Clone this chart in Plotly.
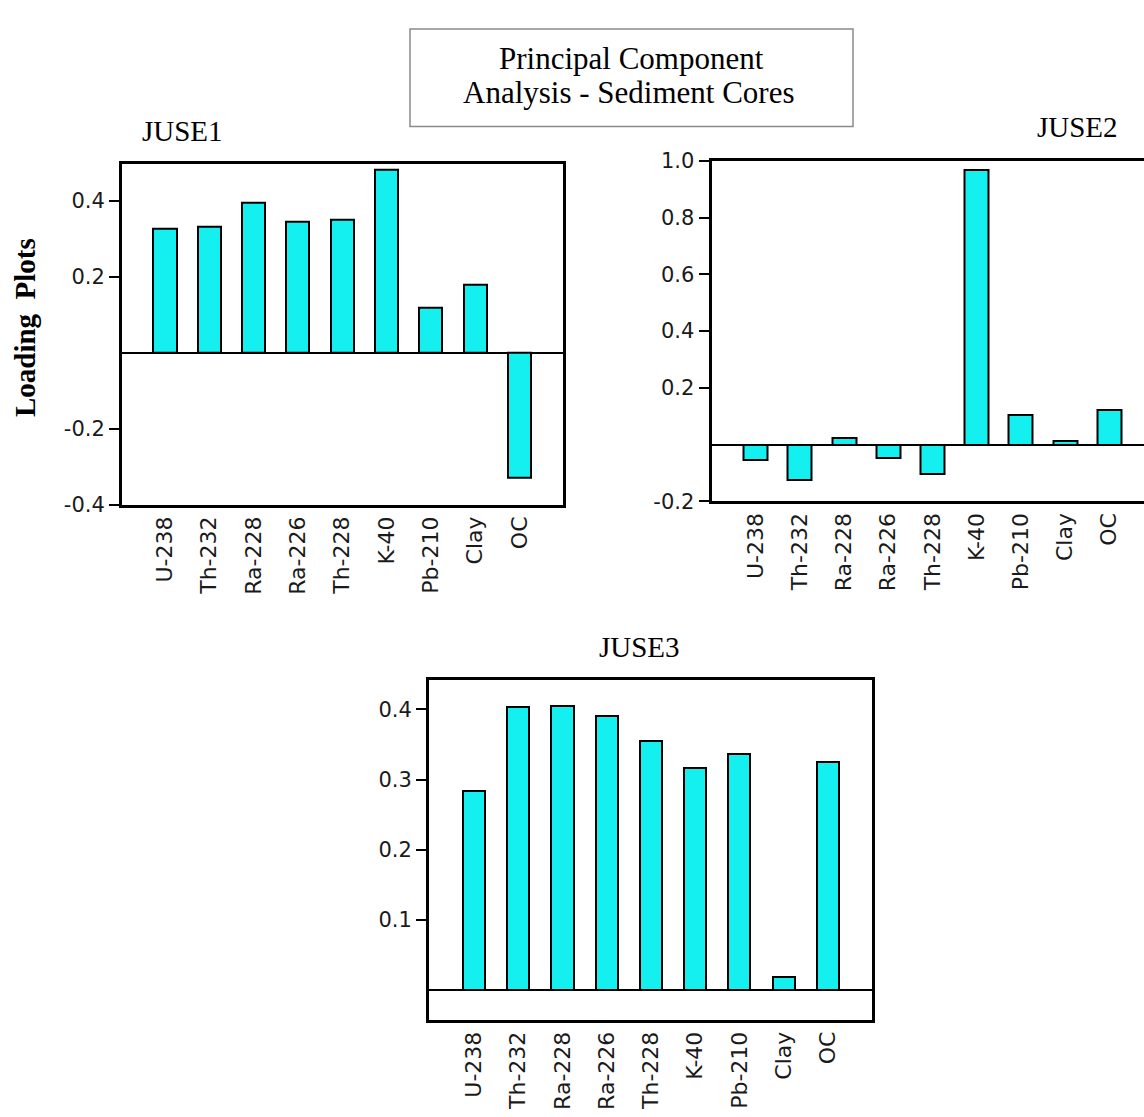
import plotly.graph_objects as go

categories = ["U-238", "Th-232", "Ra-228", "Ra-226", "Th-228", "K-40", "Pb-210", "Clay", "OC"]
juse1 = [0.326, 0.332, 0.395, 0.345, 0.351, 0.483, 0.120, 0.180, -0.329]
juse2 = [-0.055, -0.124, 0.022, -0.047, -0.105, 0.970, 0.104, 0.012, 0.123]
juse3 = [0.283, 0.403, 0.405, 0.391, 0.355, 0.317, 0.337, 0.018, 0.325]

ticks1 = [0.4, 0.2, -0.2, -0.4]
ticks2 = [1.0, 0.8, 0.6, 0.4, 0.2, -0.2]
ticks3 = [0.4, 0.3, 0.2, 0.1]

W, H = 1144, 1117
BAR = "#14F0F0"
YTICKFONT = dict(family="DejaVu Sans", size=21, color="#1a1a1a")
XTICKFONT = dict(family="DejaVu Sans", size=22, color="#1a1a1a")
SERIF = "Liberation Serif"

fig = go.Figure()

def px_x(p):
    return p / W

def px_y(p):
    return 1 - p / H

panels = [
    ("x", "y", juse1, 0.52),
    ("x2", "y2", juse2, 0.54),
    ("x3", "y3", juse3, 0.50),
]
for xa, ya, vals, bw in panels:
    fig.add_trace(go.Bar(
        x=categories, y=vals, xaxis=xa, yaxis=ya, width=bw,
        marker=dict(color=BAR, line=dict(color="black", width=2)),
        showlegend=False, hoverinfo="x+y",
    ))

def xaxis(domain, rng, anchor):
    return dict(domain=domain, range=rng, anchor=anchor, type="category",
                categoryorder="array", categoryarray=categories,
                showline=True, linecolor="black", linewidth=3, mirror=True,
                ticks="", tickangle=-90, tickfont=XTICKFONT, showgrid=False,
                fixedrange=True)

def yaxis(domain, rng, anchor, tickvals, mirror=True):
    return dict(domain=domain, range=rng, anchor=anchor,
                tickvals=tickvals, ticktext=[f"{v:.1f}" for v in tickvals],
                showline=True, linecolor="black", linewidth=3, mirror=mirror,
                ticks="outside", ticklen=10, tickwidth=2, tickcolor="black",
                tickfont=YTICKFONT, showgrid=False,
                zeroline=True, zerolinecolor="black", zerolinewidth=2,
                fixedrange=True)

fig.update_layout(
    width=W, height=H,
    margin=dict(l=0, r=0, t=0, b=0),
    paper_bgcolor="white", plot_bgcolor="white",
    bargap=0,
    xaxis=xaxis([px_x(122), px_x(563)], [-0.97, 8.98], "y"),
    yaxis=yaxis([px_y(503.5), px_y(155)], [-0.4, 0.498], "x", ticks1),
    xaxis2=xaxis([px_x(711.5), 1.0], [-1.0, 8.785], "y2"),
    yaxis2=yaxis([px_y(500), px_y(152.3)], [-0.2, 1.0], "x2", ticks2, mirror=False),
    xaxis3=xaxis([px_x(429), px_x(872)], [-1.02, 9.0], "y3"),
    yaxis3=yaxis([px_y(1030), px_y(682.7)], [-0.043, 0.442], "x3", ticks3),
)

annotations = [
    dict(text="JUSE1", x=px_x(182), y=px_y(122), font=dict(family=SERIF, size=29, color="black")),
    dict(text="JUSE2", x=px_x(1077), y=px_y(118), font=dict(family=SERIF, size=29, color="black")),
    dict(text="JUSE3", x=px_x(639.5), y=px_y(649), font=dict(family=SERIF, size=29, color="black")),
    dict(text="<b>Loading\u00a0 Plots</b>", x=px_x(25), y=px_y(323), textangle=-90,
         font=dict(family=SERIF, size=29, color="black")),
    dict(text="Principal Component", x=px_x(631), y=px_y(48),
         font=dict(family=SERIF, size=31, color="black")),
    dict(text="Analysis - Sediment Cores", x=px_x(629), y=px_y(82),
         font=dict(family=SERIF, size=31, color="black")),
]
for a in annotations:
    a.update(xref="paper", yref="paper", showarrow=False, xanchor="center", yanchor="middle")
fig.update_layout(annotations=annotations)

fig.add_shape(type="rect", xref="paper", yref="paper",
              x0=px_x(410), x1=px_x(853), y0=px_y(117), y1=px_y(17.5),
              line=dict(color="#8a8a8a", width=1.5), fillcolor="rgba(0,0,0,0)", layer="below")

fig.write_html("out.html", config={"displayModeBar": False})
